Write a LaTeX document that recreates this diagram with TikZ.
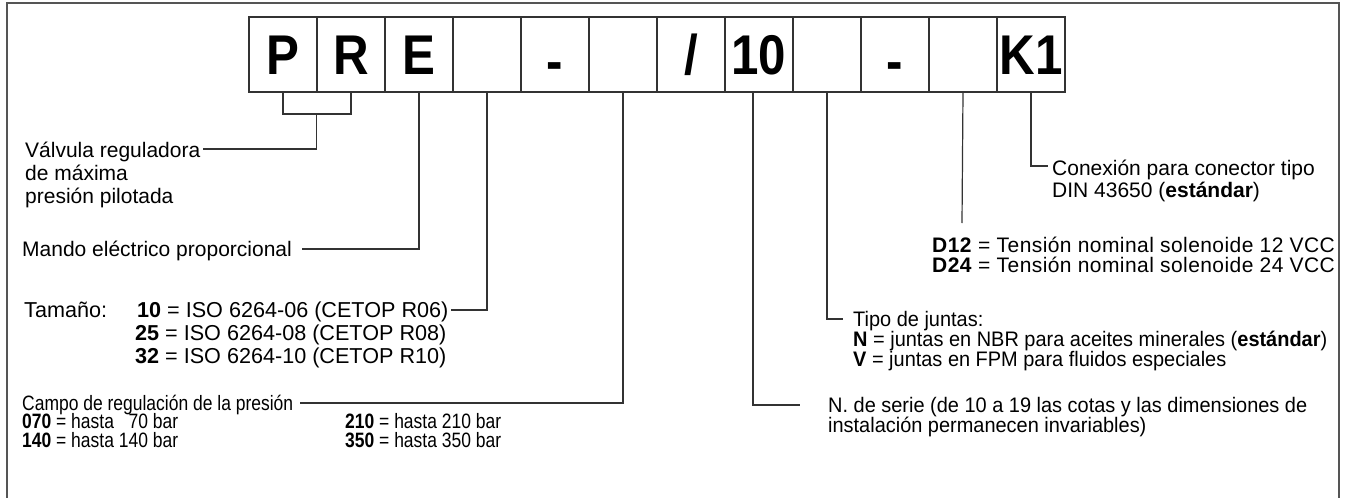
\documentclass[tikz,border=0pt]{standalone}
\usepackage{fontspec}
\setmainfont{Liberation Sans}
\newfontfamily\boxfont[FakeStretch=0.88]{Liberation Sans}
\newfontfamily\narrowfont[FakeStretch=0.84]{Liberation Sans}
\newfontfamily\narrowerfont[FakeStretch=0.95]{Liberation Sans}
\newfontfamily\spacedfont[LetterSpace=2.0]{Liberation Sans}
\definecolor{lncol}{HTML}{333333}
\definecolor{framecol}{HTML}{555555}
\tikzset{
  codebox/.style={draw=lncol, line width=1.2pt, minimum width=68pt, minimum height=75pt, inner sep=0pt,
    text height=40pt, text depth=0pt, font=\boxfont\fontsize{56}{56}\selectfont\bfseries},
  lead/.style={draw=lncol, line width=1.2pt},
  frameline/.style={draw=framecol, line width=2.4pt},
  lbl/.style={anchor=base west, inner sep=0pt, font=\fontsize{21}{23}\selectfont},
  lblt/.style={anchor=base west, inner sep=0pt, font=\fontsize{21.6}{23}\selectfont},
  lbls/.style={anchor=base west, inner sep=0pt, font=\narrowfont\fontsize{20.8}{20}\selectfont},
  lblr/.style={anchor=base west, inner sep=0pt, font=\narrowerfont\fontsize{21}{21}\selectfont},
  lbld/.style={anchor=base west, inner sep=0pt, font=\spacedfont\fontsize{21}{23}\selectfont},
}
\begin{document}
\begin{tikzpicture}[x=1pt,y=-1pt]
\useasboundingbox (0,0) rectangle (1345,498);
\draw[frameline] (7,498) -- (7,3) -- (1339,3) -- (1339,498);

% code boxes
\foreach \i/\t in {1/P,2/R,3/E,4/{},5/{\raisebox{-6pt}{-}},6/{},7/{/},8/10,9/{},10/{\raisebox{-6pt}{-}},11/{},12/K1}{
  \node[codebox] (b\i) at ({249+34+68*(\i-1)},54.5) {\t};
}

% labels left
\node[lbl] (va1) at (25,157) {Válvula reguladora};
\node[lbl] (va2) at (25,180) {de máxima};
\node[lbl] (va3) at (25,203) {presión pilotada};
\node[lbl] (man) at (22,256) {Mando eléctrico proporcional};
\node[lblt] (tam) at (24,317) {Tamaño:};
\node[lblt] (t10) at (137,317) {\textbf{10} = ISO 6264-06 (CETOP R06)};
\node[lblt] (t25) at (135,340) {\textbf{25} = ISO 6264-08 (CETOP R08)};
\node[lblt] (t32) at (135,363) {\textbf{32} = ISO 6264-10 (CETOP R10)};
\node[lbls] (cam) at (22,410) {Campo de regulación de la presión};
\node[lbls] (p070) at (22,428.5) {\textbf{070} = hasta \phantom{1}70 bar};
\node[lbls] (p140) at (22,447) {\textbf{140} = hasta 140 bar};
\node[lbls] (p210) at (345,428.5) {\textbf{210} = hasta 210 bar};
\node[lbls] (p350) at (345,447) {\textbf{350} = hasta 350 bar};

% labels right
\node[lbl] (con1) at (1052,175) {Conexión para conector tipo};
\node[lbl] (con2) at (1052,197) {DIN 43650 (\textbf{estándar})};
\node[lbld] (d12) at (932,252) {\textbf{D12} = Tensión nominal solenoide 12 VCC};
\node[lbld] (d24) at (932,272) {\textbf{D24} = Tensión nominal solenoide 24 VCC};
\node[lblr] (tip) at (853,326) {Tipo de juntas:};
\node[lblr] (jn) at (853,346) {\textbf{N} = juntas en NBR para aceites minerales (\textbf{estándar})};
\node[lblr] (jv) at (853,366) {\textbf{V} = juntas en FPM para fluidos especiales};
\node[lblr] (ser1) at (828,412) {N. de serie (de 10 a 19 las cotas y las dimensiones de};
\node[lblr] (ser2) at (828,432) {instalación permanecen invariables)};

% leader end points
\coordinate (brk) at (316.5,114);
\coordinate (vaE) at (203,149);
\coordinate (manE) at (302,249);
\coordinate (tamE) at (451,310);
\coordinate (camE) at (300,403);
\coordinate (b8t) at (753,92);
\coordinate (serE) at (800,405);
\coordinate (tipE) at (843,319);
\coordinate (d12E) at (962,223);
\coordinate (conE) at (1048,166);

% leaders
\draw[lead] (b1.south) |- (brk) -| (b2.south);
\draw[lead] (brk) |- (vaE);
\draw[lead] (b3.south) |- (manE);
\draw[lead] (b4.south) |- (tamE);
\draw[lead] (b6.south) |- (camE);
\draw[lead] (b8t) |- (serE);
\draw[lead] (b9.south) |- (tipE);
\draw[lead] (b11.south) -- (d12E);
\draw[lead] (b12.south) |- (conE);
\end{tikzpicture}
\end{document}
